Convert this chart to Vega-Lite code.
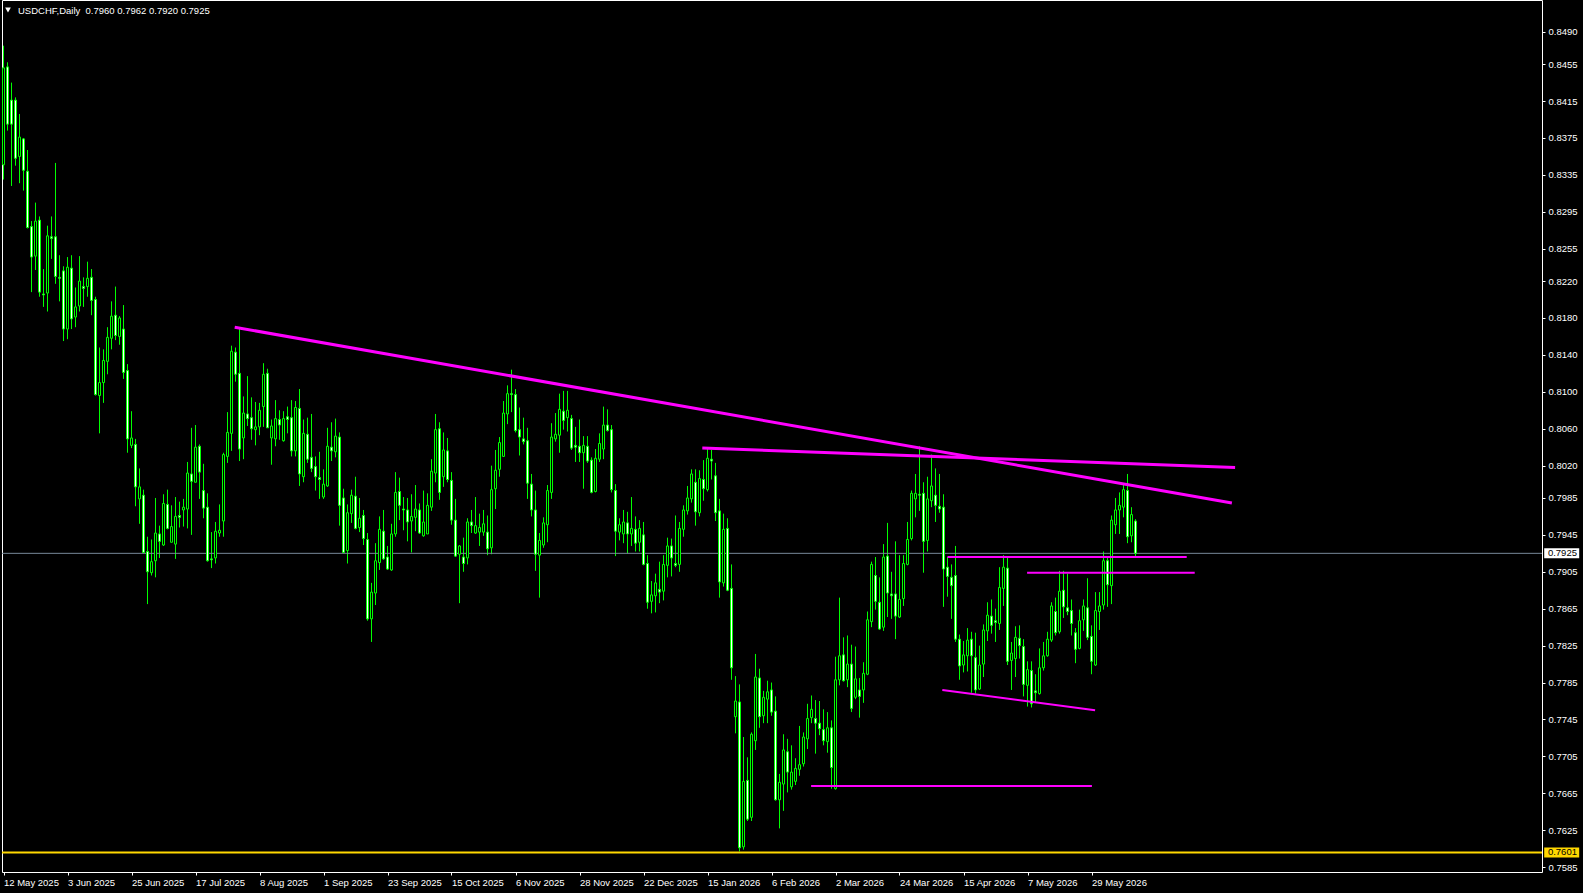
{
"$schema":"https://vega.github.io/schema/vega-lite/v6.json",
"width":1540,"height":872,"autosize":"none",
"padding":{"left":2,"top":0,"right":41,"bottom":21},
"background":"#000000",
"config":{"view":{"stroke":"#FFFFFF","strokeWidth":1},"font":"Liberation Sans","axis":{"labelOverlap":false,"labelFlush":false,"labelBound":false,"grid":false,"domain":false},"scale":{"continuousPadding":0}},
"datasets":{
"candles":[
{"i":0,"o":0.8346,"h":0.8475,"l":0.8330,"c":0.8451},
{"i":1,"o":0.8452,"h":0.8457,"l":0.8383,"c":0.8390},
{"i":2,"o":0.8416,"h":0.8435,"l":0.8323,"c":0.8390},
{"i":3,"o":0.8416,"h":0.8419,"l":0.8345,"c":0.8353},
{"i":4,"o":0.8355,"h":0.8401,"l":0.8326,"c":0.8376},
{"i":5,"o":0.8374,"h":0.8375,"l":0.8318,"c":0.8340},
{"i":6,"o":0.8339,"h":0.8362,"l":0.8277,"c":0.8278},
{"i":7,"o":0.8279,"h":0.8285,"l":0.8208,"c":0.8246},
{"i":8,"o":0.8247,"h":0.8305,"l":0.8232,"c":0.8285},
{"i":9,"o":0.8286,"h":0.8290,"l":0.8203,"c":0.8208},
{"i":10,"o":0.8206,"h":0.8233,"l":0.8192,"c":0.8205},
{"i":11,"o":0.8207,"h":0.8280,"l":0.8187,"c":0.8269},
{"i":12,"o":0.8268,"h":0.8290,"l":0.8244,"c":0.8266},
{"i":13,"o":0.8268,"h":0.8348,"l":0.8217,"c":0.8225},
{"i":14,"o":0.8224,"h":0.8248,"l":0.8198,"c":0.8223},
{"i":15,"o":0.8231,"h":0.8236,"l":0.8155,"c":0.8168},
{"i":16,"o":0.8168,"h":0.8246,"l":0.8157,"c":0.8235},
{"i":17,"o":0.8234,"h":0.8248,"l":0.8168,"c":0.8179},
{"i":18,"o":0.8181,"h":0.8213,"l":0.8170,"c":0.8192},
{"i":19,"o":0.8193,"h":0.8247,"l":0.8187,"c":0.8220},
{"i":20,"o":0.8214,"h":0.8224,"l":0.8192,"c":0.8212},
{"i":21,"o":0.8214,"h":0.8241,"l":0.8203,"c":0.8223},
{"i":22,"o":0.8224,"h":0.8233,"l":0.8183,"c":0.8199},
{"i":23,"o":0.8200,"h":0.8203,"l":0.8096,"c":0.8097},
{"i":24,"o":0.8096,"h":0.8148,"l":0.8055,"c":0.8110},
{"i":25,"o":0.8110,"h":0.8146,"l":0.8088,"c":0.8134},
{"i":26,"o":0.8133,"h":0.8170,"l":0.8119,"c":0.8159},
{"i":27,"o":0.8158,"h":0.8198,"l":0.8146,"c":0.8182},
{"i":28,"o":0.8183,"h":0.8214,"l":0.8156,"c":0.8161},
{"i":29,"o":0.8160,"h":0.8182,"l":0.8151,"c":0.8180},
{"i":30,"o":0.8168,"h":0.8194,"l":0.8114,"c":0.8121},
{"i":31,"o":0.8123,"h":0.8130,"l":0.8034,"c":0.8049},
{"i":32,"o":0.8042,"h":0.8079,"l":0.8039,"c":0.8050},
{"i":33,"o":0.8043,"h":0.8049,"l":0.7976,"c":0.7997},
{"i":34,"o":0.7984,"h":0.8017,"l":0.7957,"c":0.7997},
{"i":35,"o":0.7988,"h":0.7994,"l":0.7925,"c":0.7926},
{"i":36,"o":0.7927,"h":0.7943,"l":0.7870,"c":0.7905},
{"i":37,"o":0.7904,"h":0.7940,"l":0.7901,"c":0.7916},
{"i":38,"o":0.7917,"h":0.7985,"l":0.7899,"c":0.7947},
{"i":39,"o":0.7946,"h":0.7955,"l":0.7920,"c":0.7938},
{"i":40,"o":0.7934,"h":0.7989,"l":0.7933,"c":0.7979},
{"i":41,"o":0.7978,"h":0.7994,"l":0.7951,"c":0.7952},
{"i":42,"o":0.7937,"h":0.7977,"l":0.7937,"c":0.7954},
{"i":43,"o":0.7935,"h":0.7986,"l":0.7919,"c":0.7965},
{"i":44,"o":0.7966,"h":0.7981,"l":0.7953,"c":0.7964},
{"i":45,"o":0.7972,"h":0.7984,"l":0.7954,"c":0.7975},
{"i":46,"o":0.7973,"h":0.8024,"l":0.7952,"c":0.8012},
{"i":47,"o":0.8011,"h":0.8061,"l":0.7945,"c":0.8003},
{"i":48,"o":0.8002,"h":0.8064,"l":0.8002,"c":0.8040},
{"i":49,"o":0.8041,"h":0.8043,"l":0.7984,"c":0.8013},
{"i":50,"o":0.7993,"h":0.8022,"l":0.7963,"c":0.7974},
{"i":51,"o":0.7975,"h":0.7990,"l":0.7916,"c":0.7917},
{"i":52,"o":0.7919,"h":0.7948,"l":0.7909,"c":0.7918},
{"i":53,"o":0.7920,"h":0.7959,"l":0.7914,"c":0.7949},
{"i":54,"o":0.7947,"h":0.7978,"l":0.7943,"c":0.7950},
{"i":55,"o":0.7960,"h":0.8034,"l":0.7943,"c":0.8032},
{"i":56,"o":0.8030,"h":0.8078,"l":0.8023,"c":0.8056},
{"i":57,"o":0.8055,"h":0.8150,"l":0.8036,"c":0.8144},
{"i":58,"o":0.8143,"h":0.8148,"l":0.8111,"c":0.8119},
{"i":59,"o":0.8120,"h":0.8169,"l":0.8025,"c":0.8038},
{"i":60,"o":0.8050,"h":0.8095,"l":0.8027,"c":0.8077},
{"i":61,"o":0.8076,"h":0.8117,"l":0.8063,"c":0.8071},
{"i":62,"o":0.8072,"h":0.8094,"l":0.8048,"c":0.8060},
{"i":63,"o":0.8059,"h":0.8089,"l":0.8042,"c":0.8062},
{"i":64,"o":0.8062,"h":0.8088,"l":0.8053,"c":0.8080},
{"i":65,"o":0.8084,"h":0.8131,"l":0.8062,"c":0.8119},
{"i":66,"o":0.8120,"h":0.8125,"l":0.8061,"c":0.8061},
{"i":67,"o":0.8050,"h":0.8070,"l":0.8021,"c":0.8063},
{"i":68,"o":0.8049,"h":0.8091,"l":0.8041,"c":0.8071},
{"i":69,"o":0.8070,"h":0.8080,"l":0.8048,"c":0.8064},
{"i":70,"o":0.8047,"h":0.8079,"l":0.8046,"c":0.8071},
{"i":71,"o":0.8073,"h":0.8084,"l":0.8055,"c":0.8070},
{"i":72,"o":0.8072,"h":0.8091,"l":0.8030,"c":0.8036},
{"i":73,"o":0.8036,"h":0.8090,"l":0.8030,"c":0.8083},
{"i":74,"o":0.8082,"h":0.8103,"l":0.7998,"c":0.8011},
{"i":75,"o":0.8008,"h":0.8070,"l":0.8002,"c":0.8055},
{"i":76,"o":0.8054,"h":0.8072,"l":0.8023,"c":0.8027},
{"i":77,"o":0.8029,"h":0.8076,"l":0.8013,"c":0.8017},
{"i":78,"o":0.8019,"h":0.8030,"l":0.7993,"c":0.8008},
{"i":79,"o":0.8007,"h":0.8035,"l":0.7984,"c":0.8005},
{"i":80,"o":0.7986,"h":0.8016,"l":0.7984,"c":0.8000},
{"i":81,"o":0.7998,"h":0.8061,"l":0.7997,"c":0.8041},
{"i":82,"o":0.8040,"h":0.8067,"l":0.8025,"c":0.8036},
{"i":83,"o":0.8035,"h":0.8071,"l":0.8029,"c":0.8052},
{"i":84,"o":0.8051,"h":0.8056,"l":0.7955,"c":0.7977},
{"i":85,"o":0.7985,"h":0.7995,"l":0.7925,"c":0.7926},
{"i":86,"o":0.7928,"h":0.7978,"l":0.7914,"c":0.7969},
{"i":87,"o":0.7968,"h":0.7994,"l":0.7958,"c":0.7988},
{"i":88,"o":0.7987,"h":0.8008,"l":0.7951,"c":0.7952},
{"i":89,"o":0.7953,"h":0.7985,"l":0.7948,"c":0.7963},
{"i":90,"o":0.7966,"h":0.7972,"l":0.7934,"c":0.7941},
{"i":91,"o":0.7940,"h":0.7947,"l":0.7852,"c":0.7854},
{"i":92,"o":0.7854,"h":0.7893,"l":0.7829,"c":0.7883},
{"i":93,"o":0.7882,"h":0.7936,"l":0.7869,"c":0.7917},
{"i":94,"o":0.7915,"h":0.7965,"l":0.7907,"c":0.7951},
{"i":95,"o":0.7949,"h":0.7972,"l":0.7918,"c":0.7919},
{"i":96,"o":0.7921,"h":0.7933,"l":0.7907,"c":0.7908},
{"i":97,"o":0.7907,"h":0.7957,"l":0.7906,"c":0.7946},
{"i":98,"o":0.7946,"h":0.8013,"l":0.7943,"c":0.7991},
{"i":99,"o":0.7992,"h":0.8007,"l":0.7961,"c":0.7977},
{"i":100,"o":0.7973,"h":0.7986,"l":0.7950,"c":0.7972},
{"i":101,"o":0.7972,"h":0.7985,"l":0.7938,"c":0.7959},
{"i":102,"o":0.7960,"h":0.7989,"l":0.7926,"c":0.7965},
{"i":103,"o":0.7964,"h":0.7999,"l":0.7949,"c":0.7973},
{"i":104,"o":0.7972,"h":0.7979,"l":0.7946,"c":0.7947},
{"i":105,"o":0.7944,"h":0.7993,"l":0.7943,"c":0.7959},
{"i":106,"o":0.7946,"h":0.7990,"l":0.7946,"c":0.7977},
{"i":107,"o":0.7975,"h":0.8027,"l":0.7971,"c":0.8014},
{"i":108,"o":0.8012,"h":0.8076,"l":0.8002,"c":0.8059},
{"i":109,"o":0.8060,"h":0.8067,"l":0.7983,"c":0.7991},
{"i":110,"o":0.8008,"h":0.8056,"l":0.7997,"c":0.8037},
{"i":111,"o":0.8036,"h":0.8050,"l":0.8002,"c":0.8005},
{"i":112,"o":0.8004,"h":0.8013,"l":0.7956,"c":0.7961},
{"i":113,"o":0.7961,"h":0.7984,"l":0.7921,"c":0.7922},
{"i":114,"o":0.7924,"h":0.7934,"l":0.7871,"c":0.7933},
{"i":115,"o":0.7921,"h":0.7942,"l":0.7905,"c":0.7914},
{"i":116,"o":0.7920,"h":0.7963,"l":0.7913,"c":0.7959},
{"i":117,"o":0.7959,"h":0.7972,"l":0.7947,"c":0.7955},
{"i":118,"o":0.7947,"h":0.7986,"l":0.7946,"c":0.7955},
{"i":119,"o":0.7948,"h":0.7968,"l":0.7933,"c":0.7953},
{"i":120,"o":0.7948,"h":0.7972,"l":0.7944,"c":0.7957},
{"i":121,"o":0.7948,"h":0.7966,"l":0.7923,"c":0.7930},
{"i":122,"o":0.7931,"h":0.8020,"l":0.7924,"c":0.7994},
{"i":123,"o":0.7995,"h":0.8037,"l":0.7973,"c":0.8015},
{"i":124,"o":0.8016,"h":0.8051,"l":0.8008,"c":0.8045},
{"i":125,"o":0.8030,"h":0.8090,"l":0.8030,"c":0.8077},
{"i":126,"o":0.8076,"h":0.8107,"l":0.8065,"c":0.8098},
{"i":127,"o":0.8098,"h":0.8124,"l":0.8078,"c":0.8097},
{"i":128,"o":0.8097,"h":0.8103,"l":0.8056,"c":0.8058},
{"i":129,"o":0.8059,"h":0.8083,"l":0.8031,"c":0.8051},
{"i":130,"o":0.8049,"h":0.8072,"l":0.8043,"c":0.8046},
{"i":131,"o":0.8047,"h":0.8061,"l":0.7984,"c":0.8001},
{"i":132,"o":0.8000,"h":0.8011,"l":0.7965,"c":0.7972},
{"i":133,"o":0.7972,"h":0.7993,"l":0.7906,"c":0.7924},
{"i":134,"o":0.7923,"h":0.7947,"l":0.7877,"c":0.7939},
{"i":135,"o":0.7934,"h":0.7964,"l":0.7931,"c":0.7958},
{"i":136,"o":0.7956,"h":0.7999,"l":0.7937,"c":0.7993},
{"i":137,"o":0.7991,"h":0.8066,"l":0.7984,"c":0.8051},
{"i":138,"o":0.8049,"h":0.8077,"l":0.8046,"c":0.8054},
{"i":139,"o":0.8053,"h":0.8098,"l":0.8034,"c":0.8081},
{"i":140,"o":0.8079,"h":0.8101,"l":0.8059,"c":0.8069},
{"i":141,"o":0.8072,"h":0.8101,"l":0.8057,"c":0.8080},
{"i":142,"o":0.8071,"h":0.8075,"l":0.8037,"c":0.8039},
{"i":143,"o":0.8042,"h":0.8062,"l":0.8024,"c":0.8040},
{"i":144,"o":0.8041,"h":0.8070,"l":0.8024,"c":0.8034},
{"i":145,"o":0.8034,"h":0.8052,"l":0.7995,"c":0.8042},
{"i":146,"o":0.8041,"h":0.8052,"l":0.8023,"c":0.8025},
{"i":147,"o":0.8026,"h":0.8029,"l":0.7990,"c":0.7991},
{"i":148,"o":0.7992,"h":0.8038,"l":0.7991,"c":0.8028},
{"i":149,"o":0.8027,"h":0.8055,"l":0.8024,"c":0.8044},
{"i":150,"o":0.8038,"h":0.8084,"l":0.8027,"c":0.8064},
{"i":151,"o":0.8064,"h":0.8081,"l":0.8057,"c":0.8058},
{"i":152,"o":0.8059,"h":0.8064,"l":0.7991,"c":0.7994},
{"i":153,"o":0.7993,"h":0.8000,"l":0.7922,"c":0.7949},
{"i":154,"o":0.7948,"h":0.7963,"l":0.7939,"c":0.7956},
{"i":155,"o":0.7946,"h":0.7972,"l":0.7936,"c":0.7959},
{"i":156,"o":0.7958,"h":0.7970,"l":0.7925,"c":0.7946},
{"i":157,"o":0.7946,"h":0.7986,"l":0.7933,"c":0.7952},
{"i":158,"o":0.7951,"h":0.7965,"l":0.7927,"c":0.7936},
{"i":159,"o":0.7937,"h":0.7961,"l":0.7927,"c":0.7952},
{"i":160,"o":0.7945,"h":0.7959,"l":0.7912,"c":0.7913},
{"i":161,"o":0.7914,"h":0.7923,"l":0.7865,"c":0.7872},
{"i":162,"o":0.7873,"h":0.7895,"l":0.7860,"c":0.7880},
{"i":163,"o":0.7879,"h":0.7903,"l":0.7861,"c":0.7893},
{"i":164,"o":0.7886,"h":0.7916,"l":0.7871,"c":0.7883},
{"i":165,"o":0.7884,"h":0.7923,"l":0.7874,"c":0.7913},
{"i":166,"o":0.7912,"h":0.7942,"l":0.7899,"c":0.7933},
{"i":167,"o":0.7933,"h":0.7941,"l":0.7900,"c":0.7920},
{"i":168,"o":0.7914,"h":0.7966,"l":0.7910,"c":0.7912},
{"i":169,"o":0.7913,"h":0.7959,"l":0.7905,"c":0.7952},
{"i":170,"o":0.7951,"h":0.7977,"l":0.7943,"c":0.7972},
{"i":171,"o":0.7971,"h":0.7998,"l":0.7967,"c":0.7985},
{"i":172,"o":0.7984,"h":0.8016,"l":0.7980,"c":0.8011},
{"i":173,"o":0.8002,"h":0.8016,"l":0.7955,"c":0.7970},
{"i":174,"o":0.7969,"h":0.8015,"l":0.7965,"c":0.8006},
{"i":175,"o":0.8005,"h":0.8026,"l":0.7982,"c":0.7995},
{"i":176,"o":0.7994,"h":0.8038,"l":0.7992,"c":0.8028},
{"i":177,"o":0.8027,"h":0.8037,"l":0.8005,"c":0.8025},
{"i":178,"o":0.8009,"h":0.8023,"l":0.7960,"c":0.7969},
{"i":179,"o":0.7971,"h":0.7984,"l":0.7877,"c":0.7894},
{"i":180,"o":0.7893,"h":0.7968,"l":0.7889,"c":0.7951},
{"i":181,"o":0.7952,"h":0.7963,"l":0.7884,"c":0.7885},
{"i":182,"o":0.7887,"h":0.7913,"l":0.7788,"c":0.7801},
{"i":183,"o":0.7748,"h":0.7792,"l":0.7730,"c":0.7765},
{"i":184,"o":0.7764,"h":0.7783,"l":0.7602,"c":0.7606},
{"i":185,"o":0.7607,"h":0.7726,"l":0.7604,"c":0.7678},
{"i":186,"o":0.7679,"h":0.7704,"l":0.7635,"c":0.7637},
{"i":187,"o":0.7639,"h":0.7731,"l":0.7635,"c":0.7729},
{"i":188,"o":0.7722,"h":0.7816,"l":0.7712,"c":0.7791},
{"i":189,"o":0.7790,"h":0.7800,"l":0.7736,"c":0.7748},
{"i":190,"o":0.7749,"h":0.7776,"l":0.7741,"c":0.7769},
{"i":191,"o":0.7767,"h":0.7787,"l":0.7741,"c":0.7775},
{"i":192,"o":0.7777,"h":0.7785,"l":0.7749,"c":0.7753},
{"i":193,"o":0.7754,"h":0.7770,"l":0.7657,"c":0.7658},
{"i":194,"o":0.7658,"h":0.7686,"l":0.7627,"c":0.7677},
{"i":195,"o":0.7675,"h":0.7729,"l":0.7646,"c":0.7712},
{"i":196,"o":0.7710,"h":0.7724,"l":0.7666,"c":0.7688},
{"i":197,"o":0.7672,"h":0.7717,"l":0.7669,"c":0.7688},
{"i":198,"o":0.7678,"h":0.7703,"l":0.7674,"c":0.7692},
{"i":199,"o":0.7691,"h":0.7738,"l":0.7684,"c":0.7696},
{"i":200,"o":0.7697,"h":0.7731,"l":0.7694,"c":0.7726},
{"i":201,"o":0.7724,"h":0.7762,"l":0.7713,"c":0.7746},
{"i":202,"o":0.7747,"h":0.7771,"l":0.7741,"c":0.7756},
{"i":203,"o":0.7746,"h":0.7766,"l":0.7708,"c":0.7741},
{"i":204,"o":0.7741,"h":0.7765,"l":0.7728,"c":0.7735},
{"i":205,"o":0.7734,"h":0.7756,"l":0.7717,"c":0.7722},
{"i":206,"o":0.7721,"h":0.7753,"l":0.7709,"c":0.7736},
{"i":207,"o":0.7736,"h":0.7744,"l":0.7670,"c":0.7693},
{"i":208,"o":0.7670,"h":0.7813,"l":0.7669,"c":0.7788},
{"i":209,"o":0.7788,"h":0.7877,"l":0.7782,"c":0.7814},
{"i":210,"o":0.7815,"h":0.7834,"l":0.7786,"c":0.7787},
{"i":211,"o":0.7788,"h":0.7836,"l":0.7780,"c":0.7805},
{"i":212,"o":0.7805,"h":0.7826,"l":0.7753,"c":0.7757},
{"i":213,"o":0.7769,"h":0.7824,"l":0.7767,"c":0.7789},
{"i":214,"o":0.7777,"h":0.7790,"l":0.7747,"c":0.7770},
{"i":215,"o":0.7777,"h":0.7807,"l":0.7763,"c":0.7795},
{"i":216,"o":0.7794,"h":0.7862,"l":0.7793,"c":0.7853},
{"i":217,"o":0.7851,"h":0.7916,"l":0.7845,"c":0.7913},
{"i":218,"o":0.7901,"h":0.7921,"l":0.7864,"c":0.7873},
{"i":219,"o":0.7872,"h":0.7899,"l":0.7842,"c":0.7843},
{"i":220,"o":0.7845,"h":0.7935,"l":0.7841,"c":0.7921},
{"i":221,"o":0.7922,"h":0.7958,"l":0.7856,"c":0.7882},
{"i":222,"o":0.7881,"h":0.7905,"l":0.7854,"c":0.7879},
{"i":223,"o":0.7881,"h":0.7938,"l":0.7832,"c":0.7857},
{"i":224,"o":0.7856,"h":0.7923,"l":0.7855,"c":0.7875},
{"i":225,"o":0.7876,"h":0.7923,"l":0.7868,"c":0.7914},
{"i":226,"o":0.7913,"h":0.7959,"l":0.7912,"c":0.7940},
{"i":227,"o":0.7941,"h":0.7993,"l":0.7939,"c":0.7990},
{"i":228,"o":0.7984,"h":0.8011,"l":0.7964,"c":0.7990},
{"i":229,"o":0.7989,"h":0.8041,"l":0.7971,"c":0.7988},
{"i":230,"o":0.7990,"h":0.8002,"l":0.7904,"c":0.7938},
{"i":231,"o":0.7939,"h":0.8008,"l":0.7927,"c":0.7984},
{"i":232,"o":0.7982,"h":0.8032,"l":0.7975,"c":0.7998},
{"i":233,"o":0.7988,"h":0.8017,"l":0.7959,"c":0.7977},
{"i":234,"o":0.7976,"h":0.8011,"l":0.7969,"c":0.7973},
{"i":235,"o":0.7975,"h":0.7989,"l":0.7867,"c":0.7908},
{"i":236,"o":0.7910,"h":0.7921,"l":0.7878,"c":0.7900},
{"i":237,"o":0.7899,"h":0.7913,"l":0.7854,"c":0.7890},
{"i":238,"o":0.7901,"h":0.7933,"l":0.7829,"c":0.7832},
{"i":239,"o":0.7832,"h":0.7837,"l":0.7788,"c":0.7803},
{"i":240,"o":0.7804,"h":0.7830,"l":0.7796,"c":0.7815},
{"i":241,"o":0.7814,"h":0.7844,"l":0.7797,"c":0.7831},
{"i":242,"o":0.7832,"h":0.7840,"l":0.7774,"c":0.7814},
{"i":243,"o":0.7812,"h":0.7839,"l":0.7773,"c":0.7777},
{"i":244,"o":0.7778,"h":0.7825,"l":0.7777,"c":0.7804},
{"i":245,"o":0.7805,"h":0.7848,"l":0.7791,"c":0.7842},
{"i":246,"o":0.7841,"h":0.7872,"l":0.7830,"c":0.7858},
{"i":247,"o":0.7857,"h":0.7875,"l":0.7838,"c":0.7847},
{"i":248,"o":0.7852,"h":0.7865,"l":0.7829,"c":0.7850},
{"i":249,"o":0.7849,"h":0.7910,"l":0.7842,"c":0.7888},
{"i":250,"o":0.7887,"h":0.7923,"l":0.7868,"c":0.7910},
{"i":251,"o":0.7909,"h":0.7920,"l":0.7804,"c":0.7808},
{"i":252,"o":0.7809,"h":0.7829,"l":0.7777,"c":0.7817},
{"i":253,"o":0.7811,"h":0.7846,"l":0.7791,"c":0.7834},
{"i":254,"o":0.7833,"h":0.7847,"l":0.7811,"c":0.7825},
{"i":255,"o":0.7824,"h":0.7832,"l":0.7770,"c":0.7783},
{"i":256,"o":0.7782,"h":0.7808,"l":0.7759,"c":0.7799},
{"i":257,"o":0.7798,"h":0.7808,"l":0.7758,"c":0.7762},
{"i":258,"o":0.7776,"h":0.7794,"l":0.7764,"c":0.7774},
{"i":259,"o":0.7773,"h":0.7822,"l":0.7772,"c":0.7801},
{"i":260,"o":0.7801,"h":0.7829,"l":0.7798,"c":0.7814},
{"i":261,"o":0.7814,"h":0.7840,"l":0.7813,"c":0.7832},
{"i":262,"o":0.7831,"h":0.7872,"l":0.7829,"c":0.7868},
{"i":263,"o":0.7862,"h":0.7877,"l":0.7836,"c":0.7839},
{"i":264,"o":0.7840,"h":0.7906,"l":0.7838,"c":0.7884},
{"i":265,"o":0.7885,"h":0.7906,"l":0.7855,"c":0.7867},
{"i":266,"o":0.7866,"h":0.7903,"l":0.7858,"c":0.7862},
{"i":267,"o":0.7863,"h":0.7875,"l":0.7836,"c":0.7849},
{"i":268,"o":0.7839,"h":0.7844,"l":0.7806,"c":0.7821},
{"i":269,"o":0.7822,"h":0.7864,"l":0.7821,"c":0.7852},
{"i":270,"o":0.7853,"h":0.7875,"l":0.7841,"c":0.7868},
{"i":271,"o":0.7866,"h":0.7898,"l":0.7831,"c":0.7834},
{"i":272,"o":0.7835,"h":0.7847,"l":0.7794,"c":0.7808},
{"i":273,"o":0.7804,"h":0.7883,"l":0.7803,"c":0.7863},
{"i":274,"o":0.7862,"h":0.7883,"l":0.7842,"c":0.7868},
{"i":275,"o":0.7869,"h":0.7927,"l":0.7864,"c":0.7917},
{"i":276,"o":0.7917,"h":0.7921,"l":0.7867,"c":0.7891},
{"i":277,"o":0.7890,"h":0.7966,"l":0.7870,"c":0.7961},
{"i":278,"o":0.7956,"h":0.7985,"l":0.7946,"c":0.7972},
{"i":279,"o":0.7972,"h":0.7991,"l":0.7946,"c":0.7977},
{"i":280,"o":0.7975,"h":0.8000,"l":0.7964,"c":0.7994},
{"i":281,"o":0.7993,"h":0.8011,"l":0.7936,"c":0.7943},
{"i":282,"o":0.7944,"h":0.7975,"l":0.7937,"c":0.7967},
{"i":283,"o":0.7960,"h":0.7962,"l":0.7920,"c":0.7925}
],
"trend":[
{"seg":"t1","i":57.8,"p":0.8170},{"seg":"t1","i":307.1,"p":0.79795},
{"seg":"t2","i":174.7,"p":0.8039},{"seg":"t2","i":307.9,"p":0.8018},
{"seg":"s3","i":236,"p":0.7921},{"seg":"s3","i":295.8,"p":0.7921},
{"seg":"s4","i":255.9,"p":0.7904},{"seg":"s4","i":297.8,"p":0.7904},
{"seg":"s5","i":234.7,"p":0.7777},{"seg":"s5","i":272.9,"p":0.7755},
{"seg":"s6","i":201.9,"p":0.7673},{"seg":"s6","i":272.1,"p":0.7673}
],
"levels":[
{"level":0.7925,"label":"0.7925","kind":"bid"},
{"level":0.7601,"label":"0.7601","kind":"hline"}
],
"header":[
{"t":"USDCHF,Daily\u00a0\u00a00.7960 0.7962 0.7920 0.7925"}
]
},
"layer":[
{"data":{"name":"candles"},
 "mark":{"type":"rule","color":"#00FF00","strokeWidth":1},
 "encoding":{
  "x":{"field":"i","type":"quantitative","scale":{"domain":[-0.375,384.625],"nice":false,"zero":false,"padding":0},
   "axis":{"values":[0,16,32,48,64,80,96,112,128,144,160,176,192,208,224,240,256,272],"tickCount":60,
    "labelExpr":"['12 May 2025','3 Jun 2025','25 Jun 2025','17 Jul 2025','8 Aug 2025','1 Sep 2025','23 Sep 2025','15 Oct 2025','6 Nov 2025','28 Nov 2025','22 Dec 2025','15 Jan 2026','6 Feb 2026','2 Mar 2026','24 Mar 2026','15 Apr 2026','7 May 2026','29 May 2026'][round(datum.value/16)]",
    "title":null,"domain":false,"grid":false,"ticks":true,"tickSize":3,"tickColor":"#FFFFFF","labelColor":"#FFFFFF","labelFont":"Liberation Sans","labelFontSize":9.5,"labelPadding":2,"labelAlign":"left","labelBaseline":"top","labelOverlap":false,"labelFlush":false,"labelBound":false}},
  "y":{"field":"l","type":"quantitative","scale":{"domain":[0.757975,0.85245],"nice":false,"zero":false,"padding":0},
   "axis":{"orient":"right","values":[0.849,0.8455,0.8415,0.8375,0.8335,0.8295,0.8255,0.822,0.818,0.814,0.81,0.806,0.802,0.7985,0.7945,0.7905,0.7865,0.7825,0.7785,0.7745,0.7705,0.7665,0.7625,0.7585],"tickCount":60,
    "format":".4f","title":null,"domain":false,"grid":false,"ticks":true,"tickSize":3,"tickColor":"#FFFFFF","labelColor":"#FFFFFF","labelFont":"Liberation Sans","labelFontSize":9.5,"labelPadding":3,"labelBaseline":"middle","labelAlign":"left","labelOverlap":false,"labelFlush":false,"labelBound":false}},
  "y2":{"field":"h"}
 }},
{"data":{"name":"levels"},
 "mark":{"type":"rule"},
 "encoding":{
  "y":{"field":"level","type":"quantitative"},
  "color":{"condition":{"test":"datum.kind == 'bid'","value":"#778899"},"value":"#FFD700"},
  "strokeWidth":{"condition":{"test":"datum.kind == 'bid'","value":1},"value":2}
 }},
{"data":{"name":"candles"},
 "mark":{"type":"bar","width":2,"stroke":"#00FF00","strokeWidth":1},
 "encoding":{
  "x":{"field":"i","type":"quantitative"},
  "y":{"field":"o","type":"quantitative"},
  "y2":{"field":"c"},
  "fill":{"condition":{"test":"datum.c >= datum.o","value":"#000000"},"value":"#FFFFFF"}
 }},
{"data":{"name":"trend"},
 "transform":[{"filter":"datum.seg == 't1' || datum.seg == 't2'"}],
 "mark":{"type":"line","color":"#FF00FF","strokeWidth":3},
 "encoding":{
  "x":{"field":"i","type":"quantitative"},
  "y":{"field":"p","type":"quantitative"},
  "detail":{"field":"seg"}
 }},
{"data":{"name":"trend"},
 "transform":[{"filter":"datum.seg != 't1' && datum.seg != 't2'"}],
 "mark":{"type":"line","color":"#FF00FF","strokeWidth":2},
 "encoding":{
  "x":{"field":"i","type":"quantitative"},
  "y":{"field":"p","type":"quantitative"},
  "detail":{"field":"seg"}
 }},
{"data":{"name":"levels"},
 "mark":{"type":"rect","width":35,"height":10},
 "encoding":{
  "x":{"datum":389.55,"type":"quantitative"},
  "y":{"field":"level","type":"quantitative"},
  "fill":{"condition":{"test":"datum.kind == 'bid'","value":"#FFFFFF"},"value":"#FFD700"}
 }},
{"data":{"name":"levels"},
 "mark":{"type":"text","align":"left","baseline":"middle","font":"Liberation Sans","fontSize":9.5,"color":"#000000"},
 "encoding":{
  "x":{"datum":386.1,"type":"quantitative"},
  "y":{"field":"level","type":"quantitative"},
  "text":{"field":"label"}
 }},
{"data":{"name":"header"},
 "mark":{"type":"text","align":"left","baseline":"middle","font":"Liberation Sans","fontSize":9.5,"color":"#FFFFFF"},
 "encoding":{
  "x":{"datum":3.625,"type":"quantitative"},
  "y":{"datum":0.85126,"type":"quantitative"},
  "text":{"field":"t"}
 }},
{"data":{"name":"header"},
 "mark":{"type":"point","shape":"triangle-down","filled":true,"size":32,"color":"#FFFFFF","opacity":1},
 "encoding":{
  "x":{"datum":1.125,"type":"quantitative"},
  "y":{"datum":0.85137,"type":"quantitative"}
 }}
]
}
